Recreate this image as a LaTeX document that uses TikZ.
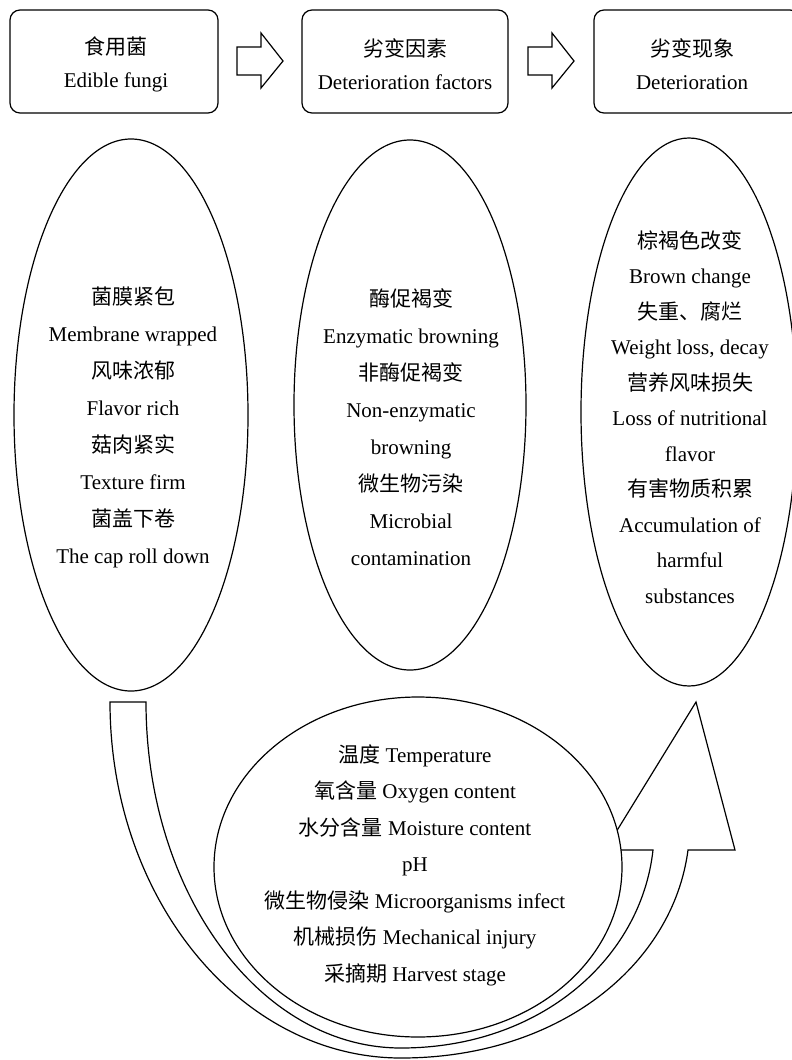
\documentclass[tikz,border=0pt]{standalone}
\usepackage{fontspec}
\setmainfont{Liberation Serif}
\newfontfamily\cjk{Noto Sans CJK SC}
\usetikzlibrary{shapes.geometric}
\tikzset{
  topbox/.style={draw, line width=0.9pt, rounded corners=7.5pt, minimum height=77.25pt, inner sep=0pt},
  boxtxt/.style={align=center, inner sep=0pt, font=\fontsize{15.75}{24.75}\selectfont},
  oval/.style={draw, ellipse, line width=0.9pt, inner sep=0pt, fill=white},
  txt/.style={align=center, inner sep=0pt, font=\fontsize{15.75}{27.75}\selectfont},
  txtb/.style={align=center, inner sep=0pt, font=\fontsize{15.75}{26.6}\selectfont},
  txtc/.style={align=center, inner sep=0pt, font=\fontsize{15.75}{27.4}\selectfont},
  shapeline/.style={draw, line width=0.9pt, fill=white, line join=miter},
}
\begin{document}
\begin{tikzpicture}[x=0.75pt,y=-0.75pt]
\clip (0,0) rectangle (792,1060);
\fill[white] (0,0) rectangle (792,1060);

% top boxes
\node[topbox, minimum width=156pt]   (b1) at (114,61.5) {};
\node[topbox, minimum width=154.5pt] (b2) at (405,61.5) {};
\node[topbox, minimum width=154.5pt] (b3) at (697,61.5) {};
\node[boxtxt] (b1t) at (116,64) {{\cjk 食用菌}\\Edible fungi};
\node[boxtxt] (b2t) at (405,64) {{\cjk 劣变因素}\\Deterioration factors};
\node[boxtxt] (b3t) at (692,64) {{\cjk 劣变现象}\\Deterioration};

% block arrows between boxes
\path[shapeline] (237,47) -- (261,47) -- (261,33) -- (283,61) -- (261,88) -- (261,75) -- (237,75) -- cycle;
\path[shapeline] (528,47) -- (552,47) -- (552,33) -- (574,61) -- (552,88) -- (552,75) -- (528,75) -- cycle;

% ellipses
\node[oval, minimum width=175.5pt, minimum height=414pt]   (e1) at (131,415) {};
\node[oval, minimum width=174pt,   minimum height=397.5pt] (e2) at (410,405) {};
\node[oval, minimum width=162pt,   minimum height=411pt]   (e3) at (689,412) {};

\node[txt] (t1) at (133,427) {{\cjk 菌膜紧包}\\Membrane wrapped\\{\cjk 风味浓郁}\\Flavor rich\\{\cjk 菇肉紧实}\\Texture firm\\{\cjk 菌盖下卷}\\The cap roll down};
\node[txt] (t2) at (411,427) {{\cjk 酶促褐变}\\Enzymatic browning\\{\cjk 非酶促褐变}\\Non-enzymatic\\browning\\{\cjk 微生物污染}\\Microbial\\contamination};
\node[txtb] (t3) at (690,417) {{\cjk 棕褐色改变}\\Brown change\\{\cjk 失重、腐烂}\\Weight loss, decay\\{\cjk 营养风味损失}\\Loss of nutritional\\flavor\\{\cjk 有害物质积累}\\Accumulation of\\harmful\\substances};

% curved U arrow
\path[shapeline] (110,702) -- (146,702)
  .. controls (146,893) and (260,1048) .. (401,1048)
  .. controls (540,1048) and (641,959) .. (653,850)
  -- (605,850) -- (696,702) -- (735,850) -- (688,850)
  .. controls (673,965) and (559,1058) .. (401,1058)
  .. controls (240,1058) and (110,898) .. (110,702) -- cycle;

% factors circle
\node[oval, minimum width=306pt, minimum height=255pt] (c) at (418,867) {};
\node[txtc] (tc) at (415,865) {{\cjk 温度} Temperature\\{\cjk 氧含量} Oxygen content\\{\cjk 水分含量} Moisture content\\pH\\{\cjk 微生物侵染} Microorganisms infect\\{\cjk 机械损伤} Mechanical injury\\{\cjk 采摘期} Harvest stage};
\end{tikzpicture}
\end{document}
